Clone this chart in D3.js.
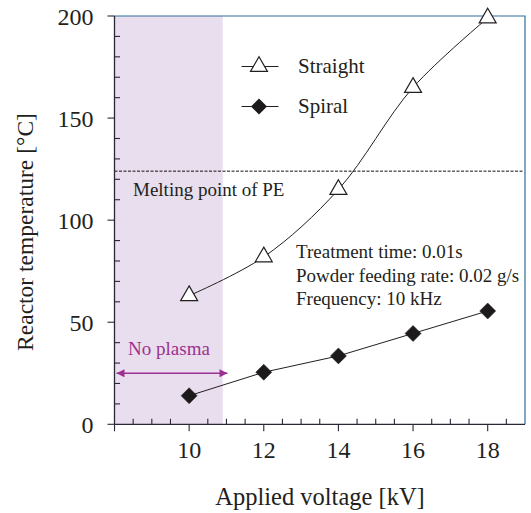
<!DOCTYPE html>
<html>
<head>
<meta charset="utf-8">
<script src="https://cdn.jsdelivr.net/npm/d3@7"></script>
<style>
  html, body { margin: 0; padding: 0; background: #fff; }
</style>
</head>
<body>
<svg id="chart" width="531" height="513" font-family="'Liberation Serif', 'Times New Roman', Times, 'DejaVu Serif', serif"></svg>
<script>
// ---- data ----
const voltages = [10, 12, 14, 16, 18];
const straight = [63, 82, 115, 165, 199];
const spiral = [14, 25.5, 33.5, 44.5, 55.5];
const xTickLabels = [10, 12, 14, 16, 18];
const yTickLabels = [0, 50, 100, 150, 200];
const meltingPoint = 124;
const noPlasmaRange = [8, 10.9];
const seriesNames = ["Straight", "Spiral"];
const conditions = ["Treatment time: 0.01s", "Powder feeding rate: 0.02 g/s", "Frequency: 10 kHz"];

// ---- layout ----
const L = 114.5, R = 525, T = 16, B = 424.3;
const ink = "#231f20";
const svg = d3.select("#chart");
const x = d3.scaleLinear().domain([8, 19]).range([L, R]);
const y = d3.scaleLinear().domain([0, 200]).range([B, T]);

// shaded no-plasma region
svg.append("rect")
  .attr("x", x(noPlasmaRange[0])).attr("y", T)
  .attr("width", x(noPlasmaRange[1]) - x(noPlasmaRange[0]))
  .attr("height", B - T)
  .attr("fill", "#e9deed");

// top and right border
svg.append("path")
  .attr("d", `M${L},${T}H${R}V${B}`)
  .attr("fill", "none").attr("stroke", "#2f6f9c").attr("stroke-width", 1.2);

// melting point dashed line
svg.append("line")
  .attr("x1", L).attr("x2", R - 2)
  .attr("y1", y(meltingPoint)).attr("y2", y(meltingPoint))
  .attr("stroke", "#111").attr("stroke-width", 1).attr("stroke-dasharray", "3,1.5");
svg.append("text").attr("x", 133).attr("y", 196).attr("font-size", 19).attr("fill", ink)
  .text("Melting point of PE");

// axes
const axisColor = "#2a2838";
const gx = svg.append("g").attr("transform", `translate(0,${B})`);
gx.append("line").attr("x1", L).attr("x2", R).attr("stroke", axisColor).attr("stroke-width", 1.3);
const xMinor = d3.range(8.5, 19, 0.5).filter(v => v % 2 !== 0);
const xMajor = d3.range(8, 19, 2);
gx.selectAll(".xmin").data(xMinor).join("line")
  .attr("x1", d => x(d)).attr("x2", d => x(d)).attr("y1", 0).attr("y2", -5.5)
  .attr("stroke", axisColor).attr("stroke-width", 1.1);
gx.selectAll(".xmaj").data(xMajor).join("line")
  .attr("x1", d => x(d)).attr("x2", d => x(d)).attr("y1", 0).attr("y2", 7)
  .attr("stroke", axisColor).attr("stroke-width", 1.1);
gx.selectAll(".xl").data(xTickLabels).join("text")
  .attr("x", d => x(d)).attr("y", 34).attr("text-anchor", "middle").attr("font-size", 24).attr("fill", ink)
  .text(d => d);

const gy = svg.append("g").attr("transform", `translate(${L},0)`);
gy.append("line").attr("y1", T).attr("y2", B).attr("stroke", axisColor).attr("stroke-width", 1.3);
const yMinor = d3.range(10, 200, 10).filter(v => v % 50 !== 0);
gy.selectAll(".ymin").data(yMinor).join("line")
  .attr("y1", d => y(d)).attr("y2", d => y(d)).attr("x1", 0).attr("x2", 5.5)
  .attr("stroke", axisColor).attr("stroke-width", 1.1);
gy.selectAll(".ymaj").data(yTickLabels).join("line")
  .attr("y1", d => y(d)).attr("y2", d => y(d)).attr("x1", 0).attr("x2", -7)
  .attr("stroke", axisColor).attr("stroke-width", 1.1);
gy.selectAll(".yl").data(yTickLabels).join("text")
  .attr("x", -21).attr("y", d => y(d) + 8.5).attr("text-anchor", "end").attr("font-size", 24).attr("fill", ink)
  .text(d => d);

// axis titles
svg.append("text").attr("x", 320).attr("y", 505).attr("text-anchor", "middle").attr("font-size", 24.5).attr("fill", ink)
  .text("Applied voltage [kV]");
svg.append("text").attr("transform", "translate(33,232) rotate(-90)")
  .attr("text-anchor", "middle").attr("font-size", 23.5).attr("fill", ink)
  .text("Reactor temperature [°C]");

// series lines
const ptsS = voltages.map((v, i) => [x(v), y(straight[i])]);
const ptsP = voltages.map((v, i) => [x(v), y(spiral[i])]);
svg.append("path").attr("d", d3.line().curve(d3.curveCatmullRom.alpha(0.5))(ptsS))
  .attr("fill", "none").attr("stroke", ink).attr("stroke-width", 1);
svg.append("path").attr("d", d3.line()(ptsP))
  .attr("fill", "none").attr("stroke", ink).attr("stroke-width", 1);

// markers
const tri = d3.symbol().type(d3.symbolTriangle).size(125);
const dia = (cx, cy, r) => `M${cx},${cy - r}L${cx + r},${cy}L${cx},${cy + r}L${cx - r},${cy}Z`;
svg.selectAll(".tri").data(ptsS).join("path")
  .attr("d", tri).attr("transform", d => `translate(${d[0]},${d[1]})`)
  .attr("fill", "#fff").attr("stroke", ink).attr("stroke-width", 1.2);
svg.selectAll(".dia").data(ptsP).join("path")
  .attr("d", d => dia(d[0], d[1], 8))
  .attr("fill", "#1c1a1b").attr("stroke", "#1c1a1b").attr("stroke-width", 0.5);

// legend
const legY = [66.5, 106.5];
legY.forEach((ly, i) => {
  svg.append("line").attr("x1", 241.5).attr("x2", 278.5).attr("y1", ly).attr("y2", ly)
    .attr("stroke", ink).attr("stroke-width", 1);
  if (i === 0) {
    svg.append("path").attr("d", tri).attr("transform", `translate(259,${ly})`)
      .attr("fill", "#fff").attr("stroke", ink).attr("stroke-width", 1.2);
  } else {
    svg.append("path").attr("d", dia(259, ly, 8)).attr("fill", "#1c1a1b");
  }
  svg.append("text").attr("x", 298).attr("y", ly + 6.5).attr("font-size", 21).attr("fill", ink).text(seriesNames[i]);
});

// conditions
conditions.forEach((t, i) => {
  svg.append("text").attr("x", 296).attr("y", 258 + i * 23.5).attr("font-size", 19).attr("fill", ink).text(t);
});

// no plasma annotation
const purple = "#9c3191";
svg.append("defs").append("marker")
  .attr("id", "ah").attr("viewBox", "0 0 10 10").attr("refX", 10).attr("refY", 5)
  .attr("markerWidth", 10).attr("markerHeight", 8).attr("markerUnits", "userSpaceOnUse")
  .attr("orient", "auto-start-reverse")
  .append("path").attr("d", "M0,0L10,5L0,10Z").attr("fill", purple);
svg.append("line").attr("x1", 116.5).attr("x2", 227.5).attr("y1", 373.3).attr("y2", 373.3)
  .attr("stroke", purple).attr("stroke-width", 1.5)
  .attr("marker-start", "url(#ah)").attr("marker-end", "url(#ah)");
svg.append("text").attr("x", 169).attr("y", 355).attr("text-anchor", "middle").attr("font-size", 19)
  .attr("fill", purple).text("No plasma");
</script>
</body>
</html>
